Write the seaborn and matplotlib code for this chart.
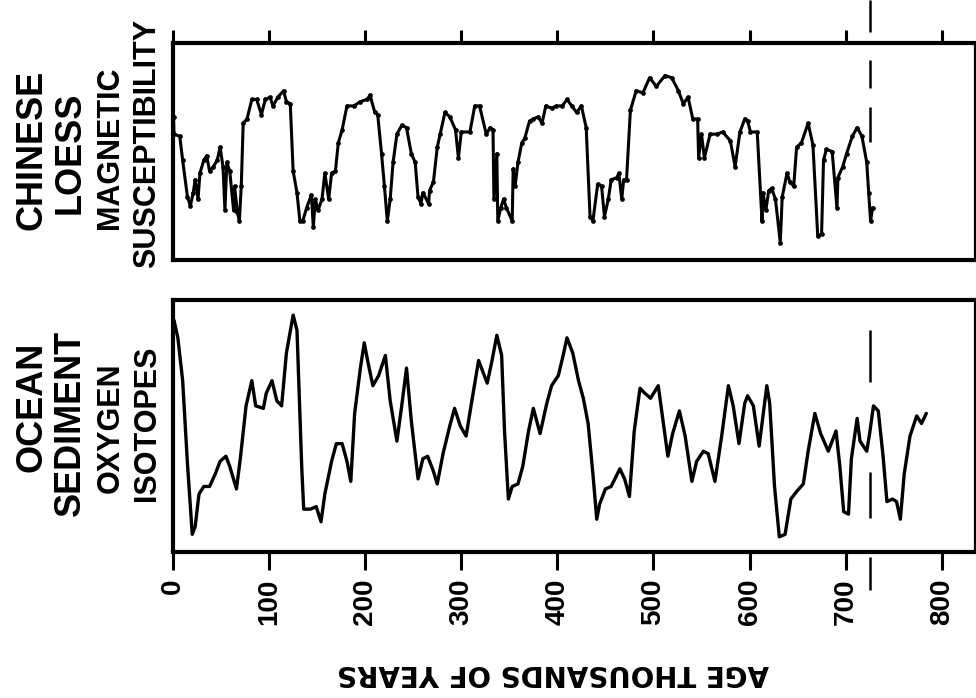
import numpy as np
import pandas as pd
import seaborn as sns
import matplotlib.pyplot as plt

# Chinese loess magnetic susceptibility (arbitrary units, 0-100 over panel height)
loess_age = [0.5, 1, 7, 10, 15, 18, 21, 23, 26, 28, 32, 35, 38, 42, 46, 49, 52, 54, 56, 59,
             63, 64, 67, 69, 71, 73, 77, 82, 87, 92, 96, 101, 104, 109, 115, 118, 122, 125,
             129, 132, 135, 139, 144, 146, 148, 151, 155, 158, 162, 165, 169, 172, 176, 181,
             188, 195, 202, 205, 210, 213, 217, 220, 223, 226, 229, 233, 238, 243, 248, 252,
             255, 258, 260, 266, 267, 271, 275, 278, 283, 288, 294, 297, 300, 309, 314, 319,
             326, 330, 333, 334, 337, 338, 341, 344, 347, 353, 354, 356, 359, 363, 366, 371,
             375, 380, 384, 388, 394, 399, 405, 410, 415, 420, 425, 430, 434, 437, 442, 446,
             449, 453, 456, 462, 464, 467, 469, 472, 476, 482, 489, 496, 503, 512, 519, 526,
             531, 536, 541, 546, 547, 550, 553, 559, 566, 572, 580, 585, 590, 595, 598, 601,
             608, 613, 614, 617, 620, 623, 627, 632, 634, 639, 642, 646, 649, 654, 661, 666,
             671, 675, 677, 680, 686, 691, 692, 697, 701, 707, 712, 717, 722, 724, 726, 728]
loess_val = [66, 58, 57, 46, 29, 25, 31, 37, 28, 40, 46, 48, 41, 43, 46, 52, 43, 23, 45, 41,
             23, 34, 22, 18, 34, 63, 65, 74, 74, 67, 74, 75, 71, 75, 78, 73, 72, 41,
             31, 18, 18, 24, 30, 15, 28, 23, 28, 40, 28, 40, 41, 54, 60, 71,
             71, 73, 74, 76, 68, 67, 49, 34, 18, 28, 45, 58, 62, 61, 49, 45,
             29, 26, 31, 26, 32, 36, 52, 58, 68, 66, 60, 47, 59, 59, 71, 71,
             58, 61, 60, 28, 49, 18, 24, 28, 24, 18, 42, 34, 45, 54, 56, 64,
             65, 66, 63, 71, 70, 71, 71, 74, 71, 68, 71, 61, 20, 18, 35, 34,
             20, 28, 37, 38, 40, 28, 37, 37, 69, 78, 77, 84, 80, 85, 84, 78,
             72, 75, 65, 65, 47, 58, 47, 58, 58, 59, 55, 43, 59, 65, 64, 59,
             59, 18, 31, 23, 32, 33, 28, 8, 29, 40, 36, 34, 52, 54, 63, 53,
             11, 12, 46, 51, 50, 24, 38, 43, 49, 57, 61, 57, 45, 31, 18, 24]

# Ocean sediment oxygen isotopes (arbitrary units, 0-100 over panel height)
ocean_age = [1, 5, 10, 15, 20, 23, 27, 32, 38, 44, 49, 55, 59, 66, 70, 76, 82, 86, 94, 97,
             103, 108, 113, 118, 125, 129, 134, 136, 143, 149, 154, 158, 165, 170, 176, 181,
             185, 189, 195, 199, 203, 208, 214, 221, 226, 233, 238, 243, 248, 255, 260, 265,
             271, 275, 281, 288, 293, 299, 305, 311, 318, 323, 327, 332, 337, 342, 345, 349,
             353, 359, 364, 370, 375, 382, 389, 394, 401, 406, 410, 416, 422, 427, 432, 437,
             441, 444, 450, 456, 465, 470, 475, 480, 486, 491, 497, 505, 510, 515, 520, 527,
             533, 540, 545, 552, 557, 564, 571, 578, 583, 589, 595, 598, 604, 610, 618, 621,
             626, 631, 637, 643, 649, 656, 661, 668, 674, 682, 690, 694, 698, 703, 706, 712,
             715, 722, 725, 729, 734, 739, 743, 749, 753, 757, 761, 767, 774, 779, 784]
ocean_val = [92, 85, 68, 35, 7, 10, 23, 26, 26, 31, 36, 38, 34, 25, 37, 58, 68, 58, 57, 63,
             68, 60, 58, 79, 94, 88, 33, 17, 17, 18, 12, 23, 36, 43, 43, 36,
             28, 55, 73, 83, 75, 66, 70, 78, 60, 44, 58, 73, 52, 29, 37, 38,
             32, 27, 39, 50, 57, 50, 46, 60, 76, 71, 67, 76, 86, 78, 48, 21,
             26, 27, 34, 48, 57, 47, 59, 66, 70, 78, 85, 79, 68, 61, 51, 31,
             13, 19, 25, 26, 33, 29, 22, 48, 65, 63, 61, 66, 52, 38, 47, 56,
             46, 28, 36, 40, 39, 28, 46, 66, 58, 43, 59, 62, 58, 42, 66, 59,
             26, 6, 7, 21, 24, 27, 40, 55, 47, 40, 48, 34, 16, 15, 37, 53,
             44, 40, 47, 58, 56, 38, 20, 21, 20, 13, 31, 46, 54, 51, 55]

age_ticks = [0, 100, 200, 300, 400, 500, 600, 700, 800]
tick_labels = ["0", "100", "200", "300", "400", "500", "600", "700", "800"]
boundary_age = 725

sns.set_theme(style="white")
plt.rcParams['font.family'] = ['Liberation Sans', 'DejaVu Sans']
plt.rcParams['text.color'] = 'black'
plt.rcParams['xtick.color'] = 'black'
plt.rcParams['xtick.labelcolor'] = 'black'
plt.rcParams['axes.edgecolor'] = 'black'

fig = plt.figure(figsize=(9.76, 6.98), dpi=100)
ax_top = fig.add_axes([0.1773, 0.6275, 0.822, 0.3109])
ax_bot = fig.add_axes([0.1773, 0.2092, 0.822, 0.3610])

loess_df = pd.DataFrame({"age": loess_age, "val": loess_val})
ocean_df = pd.DataFrame({"age": ocean_age, "val": ocean_val})

sns.lineplot(data=loess_df, x="age", y="val", ax=ax_top, color="black", lw=2.2,
             estimator=None, sort=False, marker="o", markersize=3.4, markeredgewidth=0)
sns.lineplot(data=ocean_df, x="age", y="val", ax=ax_bot, color="black", lw=2.4,
             estimator=None, sort=False)

for ax in (ax_top, ax_bot):
    ax.set_xlim(0, 835)
    ax.set_ylim(0, 100)
    ax.set_xlabel("")
    ax.set_ylabel("")
    ax.set_yticks([])
    ax.set_xticks(age_ticks)
    for side in ("left", "top", "bottom"):
        ax.spines[side].set_linewidth(3.0)
        ax.spines[side].set_color("black")
    ax.spines["right"].set_linewidth(1.6)
    ax.spines["right"].set_color("black")

ax_top.tick_params(axis="x", top=True, bottom=False, labeltop=False, labelbottom=False,
                   direction="out", length=9.5, width=2.2, color="black")
ax_bot.tick_params(axis="x", bottom=True, top=False, direction="out", length=13,
                   width=2.2, pad=6, color="black", labelcolor="black")
ax_bot.set_xticklabels(tick_labels, rotation=90, fontsize=20, fontweight="bold",
                       color="black")

# dashed boundary lines
ax_top.axvline(boundary_age, ymin=0.544, ymax=1.2, color="black", lw=1.8, clip_on=False,
               linestyle=(0, (14, 7.6, 11.2, 11.2, 12.8, 20)))
ax_bot.axvline(boundary_age, ymin=-0.151, ymax=0.881, color="black", lw=1.8, clip_on=False,
               linestyle=(0, (13.2, 15.6, 18.4, 36, 20.8, 20)))

# panel labels
big = dict(rotation=90, fontsize=26, fontweight="bold", ha="center", va="center",
           color="black")
small = dict(rotation=90, fontsize=22, fontweight="bold", ha="center", va="center",
             color="black")
fig.text(0.033, 0.785, "CHINESE", **big)
fig.text(0.072, 0.781, "LOESS", **big)
fig.text(0.113, 0.788, "MAGNETIC", **small)
fig.text(0.151, 0.795, "SUSCEPTIBILITY", **small)
fig.text(0.033, 0.417, "OCEAN", **big)
fig.text(0.072, 0.394, "SEDIMENT", **big)
fig.text(0.113, 0.387, "OXYGEN", **small)
fig.text(0.151, 0.394, "ISOTOPES", **small)

fig.text(0.5666, 0.0358, "AGE THOUSANDS OF YEARS", rotation=180, fontsize=20,
         fontweight="bold", family=["DejaVu Sans"], ha="center", va="center",
         color="black")

fig.savefig("out.png", dpi=100)
